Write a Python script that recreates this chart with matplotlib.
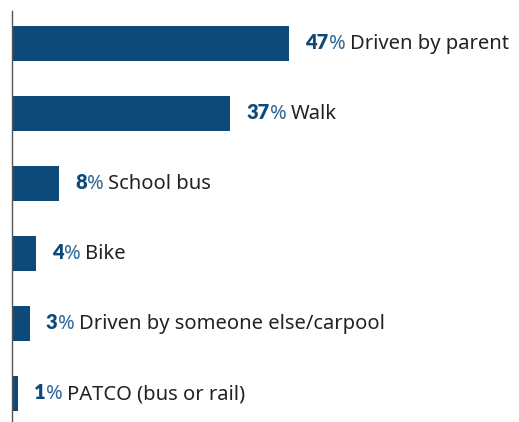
import matplotlib
matplotlib.use("Agg")
import matplotlib.pyplot as plt
from matplotlib.transforms import offset_copy

# how students get to school
modes = ["Driven by parent", "Walk", "School bus", "Bike",
         "Driven by someone else/carpool", "PATCO (bus or rail)"]
shares = [47, 37, 8, 4, 3, 1]

BAR_COLOR = "#0d4a7a"
PCT_COLOR = "#2f6a9c"
TEXT_COLOR = "#222222"

plt.rcParams['font.family'] = ['Noto Sans', 'DejaVu Sans']

fig = plt.figure(figsize=(5.19, 4.22), dpi=100)
ax = fig.add_axes([12 / 519, 0, 507 / 519, 1 - 11 / 422])

ypos = list(range(len(modes)))
ax.barh(ypos, shares, height=0.5, color=BAR_COLOR)

ax.set_xlim(0, 507 / 5.9)
ax.set_ylim(5.407, -0.464)

renderer = fig.canvas.get_renderer()
px2pt = 72 / fig.dpi

for y, val, name in zip(ypos, shares, modes):
    # three pieces on one baseline: bold number, light "%", label
    x_pt = 11.5
    pieces = [(str(val), dict(fontsize=14.5, fontweight="heavy", family="Lato", color=BAR_COLOR), 0.3),
              ("%", dict(fontsize=14.5, color=PCT_COLOR), 3.0),
              (name, dict(fontsize=14.5, color=TEXT_COLOR), 0)]
    for s, kw, gap in pieces:
        tr = offset_copy(ax.transData, fig=fig, x=x_pt, y=-4.3, units="points")
        t = ax.text(val, y, s, transform=tr, va="baseline", ha="left", **kw)
        x_pt += t.get_window_extent(renderer).width * px2pt + gap

for side in ["top", "right", "bottom"]:
    ax.spines[side].set_visible(False)
ax.spines["left"].set_color("#555555")
ax.spines["left"].set_linewidth(1)
ax.set_xticks([])
ax.set_yticks([])

fig.savefig("out.png", dpi=100)
